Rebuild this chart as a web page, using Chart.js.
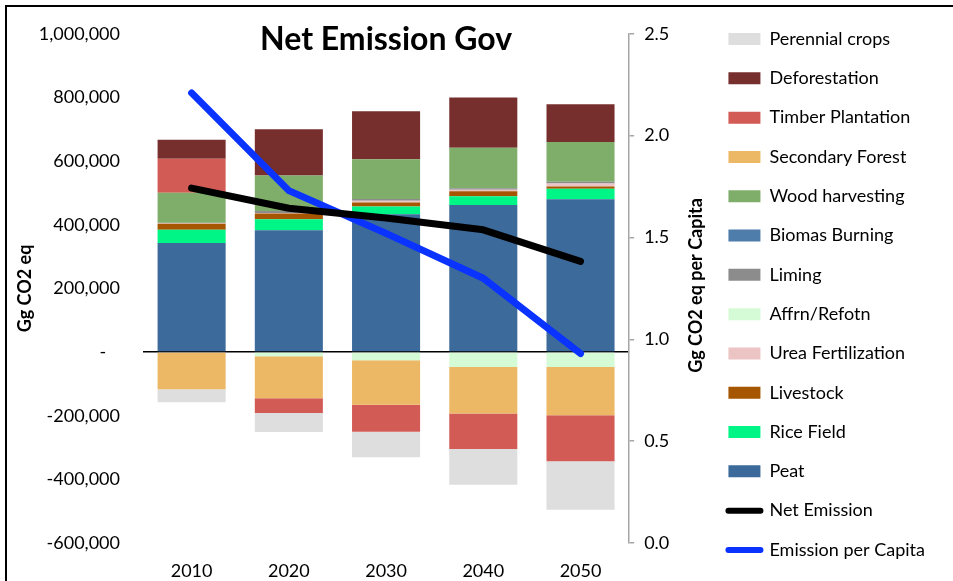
<!DOCTYPE html>
<html>
<head>
<meta charset="utf-8">
<script src="https://cdn.jsdelivr.net/npm/chart.js@4.4.1/dist/chart.umd.min.js"></script>
<style>
  body { margin: 0; background: #fff; }
  #wrap { position: relative; width: 953px; height: 581px; }
  #frame { position: absolute; left: 5px; top: 5px; right: 0; bottom: 0;
           border-top: 2px solid #000; border-left: 2px solid #000; pointer-events: none; }
</style>
</head>
<body>
<div id="wrap">
  <canvas id="myChart"></canvas>
  <div id="frame"></div>
</div>
<script>
const years = ['2010', '2020', '2030', '2040', '2050'];

// Gg CO2 eq
const peat = [343000, 383000, 433000, 462000, 480000];
const riceField = [41600, 34400, 24100, 27200, 33500];
const livestock = [18800, 17800, 12500, 15700, 6300];
const ureaFert = [1000, 2000, 6000, 5000, 10000];
const affrn = [0, -13000, -26000, -47000, -47000];
const liming = [1500, 6000, 5000, 5000, 5000];
const biomasBurning = [0, 0, 0, 0, 0];
const woodHarvest = [95000, 111700, 125000, 127400, 125200];
const secondaryForest = [-117000, -132400, -139800, -146000, -151300];
const timberPlant = [106400, -46000, -84500, -111600, -145000];
const deforestation = [59500, 145000, 151200, 157400, 118900];
const perennialCrops = [-40700, -59500, -80300, -112700, -152300];

const netEmission = [515000, 452000, 421000, 384000, 285000];
const perCapita = [2.21, 1.73, 1.52, 1.30, 0.93];

const leftTicks = [-600000, 1000000, 200000];
const rightTicks = [0, 2.5, 0.5];

Chart.defaults.font.family = 'Lato';
Chart.defaults.color = '#000';

function bar(label, data, color) {
  return { type: 'bar', label: label, data: data, backgroundColor: color, borderWidth: 0,
           yAxisID: 'y', stack: 'gov', barPercentage: 0.7, categoryPercentage: 1.0 };
}

const rightTitle = {
  id: 'rightTitle',
  afterDraw(chart) {
    const ctx = chart.ctx;
    const s = chart.scales.y2;
    const a = chart.chartArea;
    ctx.save();
    ctx.translate(s.left + 67, (a.top + a.bottom) / 2 - 3);
    ctx.rotate(-Math.PI / 2);
    ctx.font = 'bold 18px Lato';
    ctx.fillStyle = '#000';
    ctx.textAlign = 'center';
    ctx.textBaseline = 'middle';
    ctx.fillText('Gg CO2 eq per Capita', 0, 0);
    ctx.restore();
  }
};

const ctx = document.getElementById('myChart').getContext('2d');
const myChart = new Chart(ctx, {
  type: 'bar',
  data: {
    labels: years,
    datasets: [
      { type: 'line', label: 'Net Emission', data: netEmission, yAxisID: 'y', stack: 'net',
        borderColor: '#000000', backgroundColor: '#000000', borderWidth: 7, pointRadius: 0,
        borderCapStyle: 'round', borderJoinStyle: 'round', tension: 0 },
      { type: 'line', label: 'Emission per Capita', data: perCapita, yAxisID: 'y2',
        borderColor: '#0a33ff', backgroundColor: '#0a33ff', borderWidth: 7, pointRadius: 0,
        borderCapStyle: 'round', borderJoinStyle: 'round', tension: 0 },
      bar('Peat', peat, '#3b6a9b'),
      bar('Rice Field', riceField, '#00f587'),
      bar('Livestock', livestock, '#a65500'),
      bar('Urea Fertilization', ureaFert, '#ebc4c3'),
      bar('Affrn/Refotn', affrn, '#d4fbd6'),
      bar('Liming', liming, '#8c8c8c'),
      bar('Biomas Burning', biomasBurning, '#4e7cab'),
      bar('Wood harvesting', woodHarvest, '#7fae6a'),
      bar('Secondary Forest', secondaryForest, '#edb866'),
      bar('Timber Plantation', timberPlant, '#d25b55'),
      bar('Deforestation', deforestation, '#772f2e'),
      bar('Perennial crops', perennialCrops, '#dedede')
    ]
  },
  options: {
    responsive: true,
    maintainAspectRatio: false,
    animation: false,
    layout: { padding: { top: 8, right: 18, bottom: 0, left: 0 } },
    plugins: {
      title: {
        display: true,
        text: 'Net Emission Gov',
        fullSize: false,
        font: { size: 32, weight: 'bold' },
        padding: { top: 10.8, bottom: -25.2 }
      },
      legend: {
        position: 'right',
        align: 'center',
        maxWidth: 260,
        labels: {
          usePointStyle: true,
          pointStyleWidth: 32,
          boxHeight: 12,
          padding: 21.3,
          font: { size: 18 },
          generateLabels(chart) {
            return chart.data.datasets.map((ds, i) => {
              const isLine = ds.type === 'line';
              return {
                text: ds.label,
                datasetIndex: i,
                fillStyle: isLine ? ds.borderColor : ds.backgroundColor,
                strokeStyle: ds.borderColor || ds.backgroundColor,
                lineWidth: isLine ? 6 : 0,
                lineCap: 'round',
                pointStyle: isLine ? 'line' : 'rect',
                hidden: false,
                fontColor: '#000'
              };
            });
          },
          sort(a, b, data) {
            const key = (it) => data.datasets[it.datasetIndex].type === 'line'
              ? 100 + it.datasetIndex : 50 - it.datasetIndex;
            return key(a) - key(b);
          }
        }
      },
      tooltip: { enabled: false }
    },
    scales: {
      x: {
        stacked: true,
        grid: { display: false, drawTicks: false },
        border: { display: false },
        ticks: { font: { size: 18 }, padding: 17 },
        afterFit(scale) { scale.height = 38; }
      },
      y: {
        stacked: true,
        position: 'left',
        min: leftTicks[0],
        max: leftTicks[1],
        ticks: {
          stepSize: leftTicks[2],
          padding: 23,
          font: { size: 18 },
          callback: (v) => v === 0 ? '-   ' : v.toLocaleString('en-US')
        },
        grid: {
          drawTicks: false,
          color: (c) => c.tick && c.tick.value === 0 ? '#000' : 'rgba(0,0,0,0)',
          lineWidth: 1.5
        },
        border: { display: false },
        title: {
          display: true,
          text: 'Gg CO2 eq',
          font: { size: 18, weight: 'bold' },
          padding: { top: 14, bottom: 0 }
        },
        afterFit(scale) { scale.width = 143; }
      },
      y2: {
        position: 'right',
        min: rightTicks[0],
        max: rightTicks[1],
        ticks: {
          stepSize: rightTicks[2],
          padding: 10,
          font: { size: 18 },
          callback: (v) => v.toFixed(1)
        },
        grid: { drawOnChartArea: false, drawTicks: true, tickLength: 5, color: '#a6a6a6', lineWidth: 1.5 },
        border: { display: true, color: '#a6a6a6', width: 1.5 },
        afterFit(scale) { scale.width = 78; }
      }
    }
  },
  plugins: [rightTitle]
});
</script>
</body>
</html>
